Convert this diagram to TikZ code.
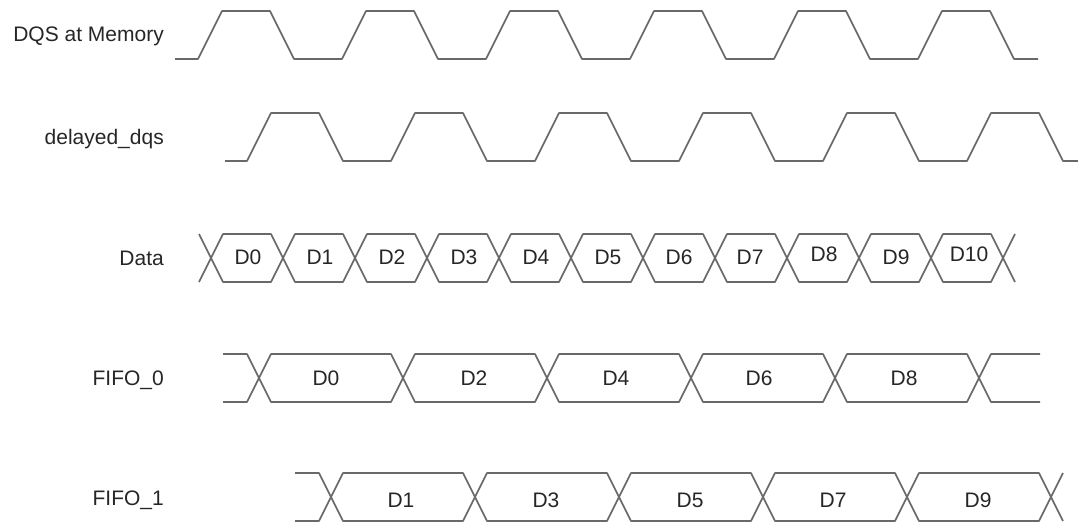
\documentclass[tikz,border=0pt]{standalone}
\usepackage{fontspec}
\setmainfont{Liberation Sans}
\definecolor{wavegray}{RGB}{105,105,105}
\newcommand{\sigfont}{\fontsize{21}{25}\selectfont}

\begin{document}
\begin{tikzpicture}[x=1pt, y=-1pt,
  wave/.style={draw=wavegray, line width=1.6pt, line join=round},
  signame/.style={anchor=base east, inner sep=0pt, font=\sigfont, text=black!85},
  busval/.style={anchor=base, inner sep=0pt, font=\sigfont, text=black!85}]
\useasboundingbox (0,0) rectangle (1078,524);

% signal names
\node[signame] (dqsname) at (164,42) {DQS at Memory};
\node[signame] (ddqsname) at (164,144) {delayed\_dqs};
\node[signame] (dataname) at (164,265) {Data};
\node[signame] (fifozname) at (164,385) {FIFO\_0};
\node[signame] (fifoaname) at (164,505) {FIFO\_1};

% DQS at Memory
\draw[wave] (175,59) -- (198,59) -- (222,11) -- (270,11) -- (294,59) -- (342,59) -- (366,11) -- (414,11) -- (438,59) -- (486,59) -- (510,11) -- (558,11) -- (582,59) -- (630,59) -- (654,11) -- (702,11) -- (726,59) -- (774,59) -- (798,11) -- (846,11) -- (870,59) -- (918,59) -- (942,11) -- (990,11) -- (1014,59) -- (1038,59);

% delayed_dqs
\draw[wave] (225,161) -- (247,161) -- (271,113) -- (319,113) -- (343,161) -- (391,161) -- (415,113) -- (463,113) -- (487,161) -- (535,161) -- (559,113) -- (607,113) -- (631,161) -- (679,161) -- (703,113) -- (751,113) -- (775,161) -- (823,161) -- (847,113) -- (895,113) -- (919,161) -- (967,161) -- (991,113) -- (1039,113) -- (1063,161) -- (1078,161);

% Data bus
\draw[wave] (199,234) -- (211,258) -- (223,234) -- (271,234) -- (283,258) -- (295,234) -- (343,234) -- (355,258) -- (367,234) -- (415,234) -- (427,258) -- (439,234) -- (487,234) -- (499,258) -- (511,234) -- (559,234) -- (571,258) -- (583,234) -- (631,234) -- (643,258) -- (655,234) -- (703,234) -- (715,258) -- (727,234) -- (775,234) -- (787,258) -- (799,234) -- (847,234) -- (859,258) -- (871,234) -- (919,234) -- (931,258) -- (943,234) -- (991,234) -- (1003,258) -- (1015,234);
\draw[wave] (199,282) -- (211,258) -- (223,282) -- (271,282) -- (283,258) -- (295,282) -- (343,282) -- (355,258) -- (367,282) -- (415,282) -- (427,258) -- (439,282) -- (487,282) -- (499,258) -- (511,282) -- (559,282) -- (571,258) -- (583,282) -- (631,282) -- (643,258) -- (655,282) -- (703,282) -- (715,258) -- (727,282) -- (775,282) -- (787,258) -- (799,282) -- (847,282) -- (859,258) -- (871,282) -- (919,282) -- (931,258) -- (943,282) -- (991,282) -- (1003,258) -- (1015,282);
\node[busval] (d0) at (248,264) {D0};
\node[busval] (d1) at (320,264) {D1};
\node[busval] (d2) at (392,264) {D2};
\node[busval] (d3) at (464,264) {D3};
\node[busval] (d4) at (536,264) {D4};
\node[busval] (d5) at (608,264) {D5};
\node[busval] (d6) at (679,264) {D6};
\node[busval] (d7) at (750,264) {D7};
\node[busval] (d8) at (824,261) {D8};
\node[busval] (d9) at (896,264) {D9};
\node[busval] (d10) at (969,261) {D10};

% FIFO_0
\draw[wave] (223,354) -- (247,354) -- (259,378) -- (271,354) -- (391,354) -- (403,378) -- (415,354) -- (535,354) -- (547,378) -- (559,354) -- (679,354) -- (691,378) -- (703,354) -- (823,354) -- (835,378) -- (847,354) -- (967,354) -- (979,378) -- (991,354) -- (1040,354);
\draw[wave] (223,402) -- (247,402) -- (259,378) -- (271,402) -- (391,402) -- (403,378) -- (415,402) -- (535,402) -- (547,378) -- (559,402) -- (679,402) -- (691,378) -- (703,402) -- (823,402) -- (835,378) -- (847,402) -- (967,402) -- (979,378) -- (991,402) -- (1040,402);
\node[busval] (fzd0) at (326,385) {D0};
\node[busval] (fzd2) at (474,385) {D2};
\node[busval] (fzd4) at (616,385) {D4};
\node[busval] (fzd6) at (759,385) {D6};
\node[busval] (fzd8) at (904,385) {D8};

% FIFO_1
\draw[wave] (295,473) -- (319,473) -- (331,497) -- (343,473) -- (463,473) -- (475,497) -- (487,473) -- (607,473) -- (619,497) -- (631,473) -- (751,473) -- (763,497) -- (775,473) -- (895,473) -- (907,497) -- (919,473) -- (1039,473) -- (1051,497) -- (1063,473);
\draw[wave] (295,521) -- (319,521) -- (331,497) -- (343,521) -- (463,521) -- (475,497) -- (487,521) -- (607,521) -- (619,497) -- (631,521) -- (751,521) -- (763,497) -- (775,521) -- (895,521) -- (907,497) -- (919,521) -- (1039,521) -- (1051,497) -- (1063,521);
\node[busval] (fad1) at (401,507) {D1};
\node[busval] (fad3) at (546,507) {D3};
\node[busval] (fad5) at (690,507) {D5};
\node[busval] (fad7) at (833,507) {D7};
\node[busval] (fad9) at (978,507) {D9};
\end{tikzpicture}
\end{document}
